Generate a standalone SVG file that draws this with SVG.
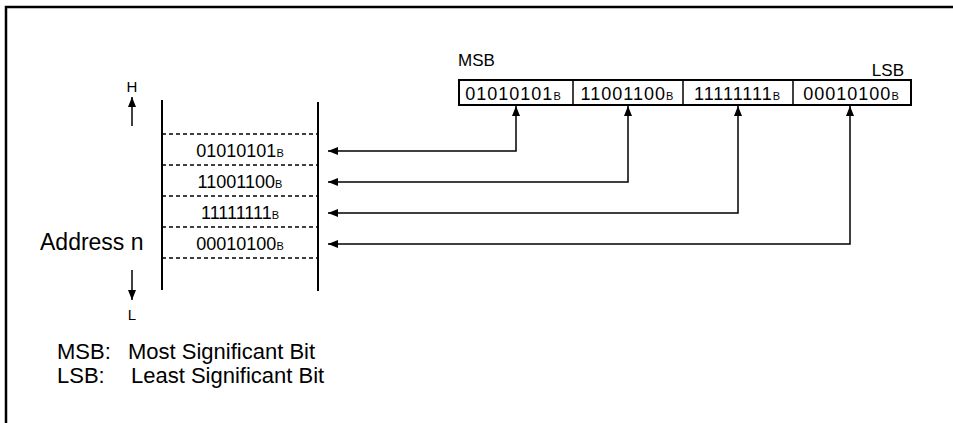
<svg xmlns="http://www.w3.org/2000/svg" width="953" height="423" viewBox="0 0 953 423">
<defs>
<marker id="ah" viewBox="0 0 10 8" refX="10" refY="4" markerWidth="10" markerHeight="8" markerUnits="userSpaceOnUse" orient="auto-start-reverse">
<path d="M0,0 L10,4 L0,8 z" fill="#000"/>
</marker>
<style>
text{font-family:"Liberation Sans",Arial,sans-serif;fill:#000}
.lbl{font-size:22px}
.hl{font-size:15px}
.top{font-size:17px}
.num{font-size:18px}
.box{font-size:18px;letter-spacing:1px}
.sub{font-size:11px;letter-spacing:0}
.conn{fill:none;stroke:#000;stroke-width:1.5}
.dash{stroke:#000;stroke-width:1.5;stroke-dasharray:4 3}
.col{stroke:#000;stroke-width:2}
</style>
</defs>
<rect width="953" height="423" fill="#fff"/>
<path d="M6,423 V7 H953" fill="none" stroke="#000" stroke-width="2.5"/>

<g id="register">
<text x="458" y="66" class="top">MSB</text>
<text x="904" y="76" class="top" text-anchor="end">LSB</text>
<rect x="459" y="80" width="452" height="25" fill="#fff" stroke="#000" stroke-width="2"/>
<line x1="573" y1="80" x2="573" y2="105" stroke="#000" stroke-width="1.5"/>
<line x1="683" y1="80" x2="683" y2="105" stroke="#000" stroke-width="1.5"/>
<line x1="793" y1="80" x2="793" y2="105" stroke="#000" stroke-width="1.5"/>
<text x="513" y="100" class="box" text-anchor="middle">01010101<tspan class="sub">B</tspan></text>
<text x="627" y="100" class="box" text-anchor="middle">11001100<tspan class="sub">B</tspan></text>
<text x="737" y="100" class="box" text-anchor="middle">11111111<tspan class="sub">B</tspan></text>
<text x="851" y="100" class="box" text-anchor="middle">00010100<tspan class="sub">B</tspan></text>
</g>

<g id="memory">
<line class="col" x1="162" y1="100" x2="162" y2="290"/>
<line class="col" x1="318" y1="102" x2="318" y2="291"/>
<line class="dash" x1="162" y1="134" x2="318" y2="134"/>
<line class="dash" x1="162" y1="165" x2="318" y2="165"/>
<line class="dash" x1="162" y1="196" x2="318" y2="196"/>
<line class="dash" x1="162" y1="227" x2="318" y2="227"/>
<line class="dash" x1="162" y1="258" x2="318" y2="258"/>
<text x="240" y="157" class="num" text-anchor="middle">01010101<tspan class="sub">B</tspan></text>
<text x="240" y="188" class="num" text-anchor="middle">11001100<tspan class="sub">B</tspan></text>
<text x="240" y="219" class="num" text-anchor="middle">11111111<tspan class="sub">B</tspan></text>
<text x="240" y="250" class="num" text-anchor="middle">00010100<tspan class="sub">B</tspan></text>
</g>

<g id="address">
<text x="40" y="250" class="lbl" style="font-size:23px">Address n</text>
</g>

<g id="direction">
<text x="132" y="92" class="hl" text-anchor="middle">H</text>
<line x1="132" y1="126" x2="132" y2="97" class="conn" marker-end="url(#ah)"/>
<line x1="132" y1="270" x2="132" y2="300" class="conn" marker-end="url(#ah)"/>
<text x="132" y="320" class="hl" text-anchor="middle">L</text>
</g>

<g id="connectors">
<path class="conn" d="M516,106 V151 H328" marker-start="url(#ah)" marker-end="url(#ah)"/>
<path class="conn" d="M628,106 V182 H328" marker-start="url(#ah)" marker-end="url(#ah)"/>
<path class="conn" d="M738,106 V213 H328" marker-start="url(#ah)" marker-end="url(#ah)"/>
<path class="conn" d="M850,106 V244 H328" marker-start="url(#ah)" marker-end="url(#ah)"/>
</g>

<g id="legend">
<text x="57" y="359" class="lbl">MSB:</text>
<text x="128" y="359" class="lbl">Most Significant Bit</text>
<text x="57" y="383" class="lbl">LSB:</text>
<text x="131" y="383" class="lbl">Least Significant Bit</text>
</g>
</svg>
